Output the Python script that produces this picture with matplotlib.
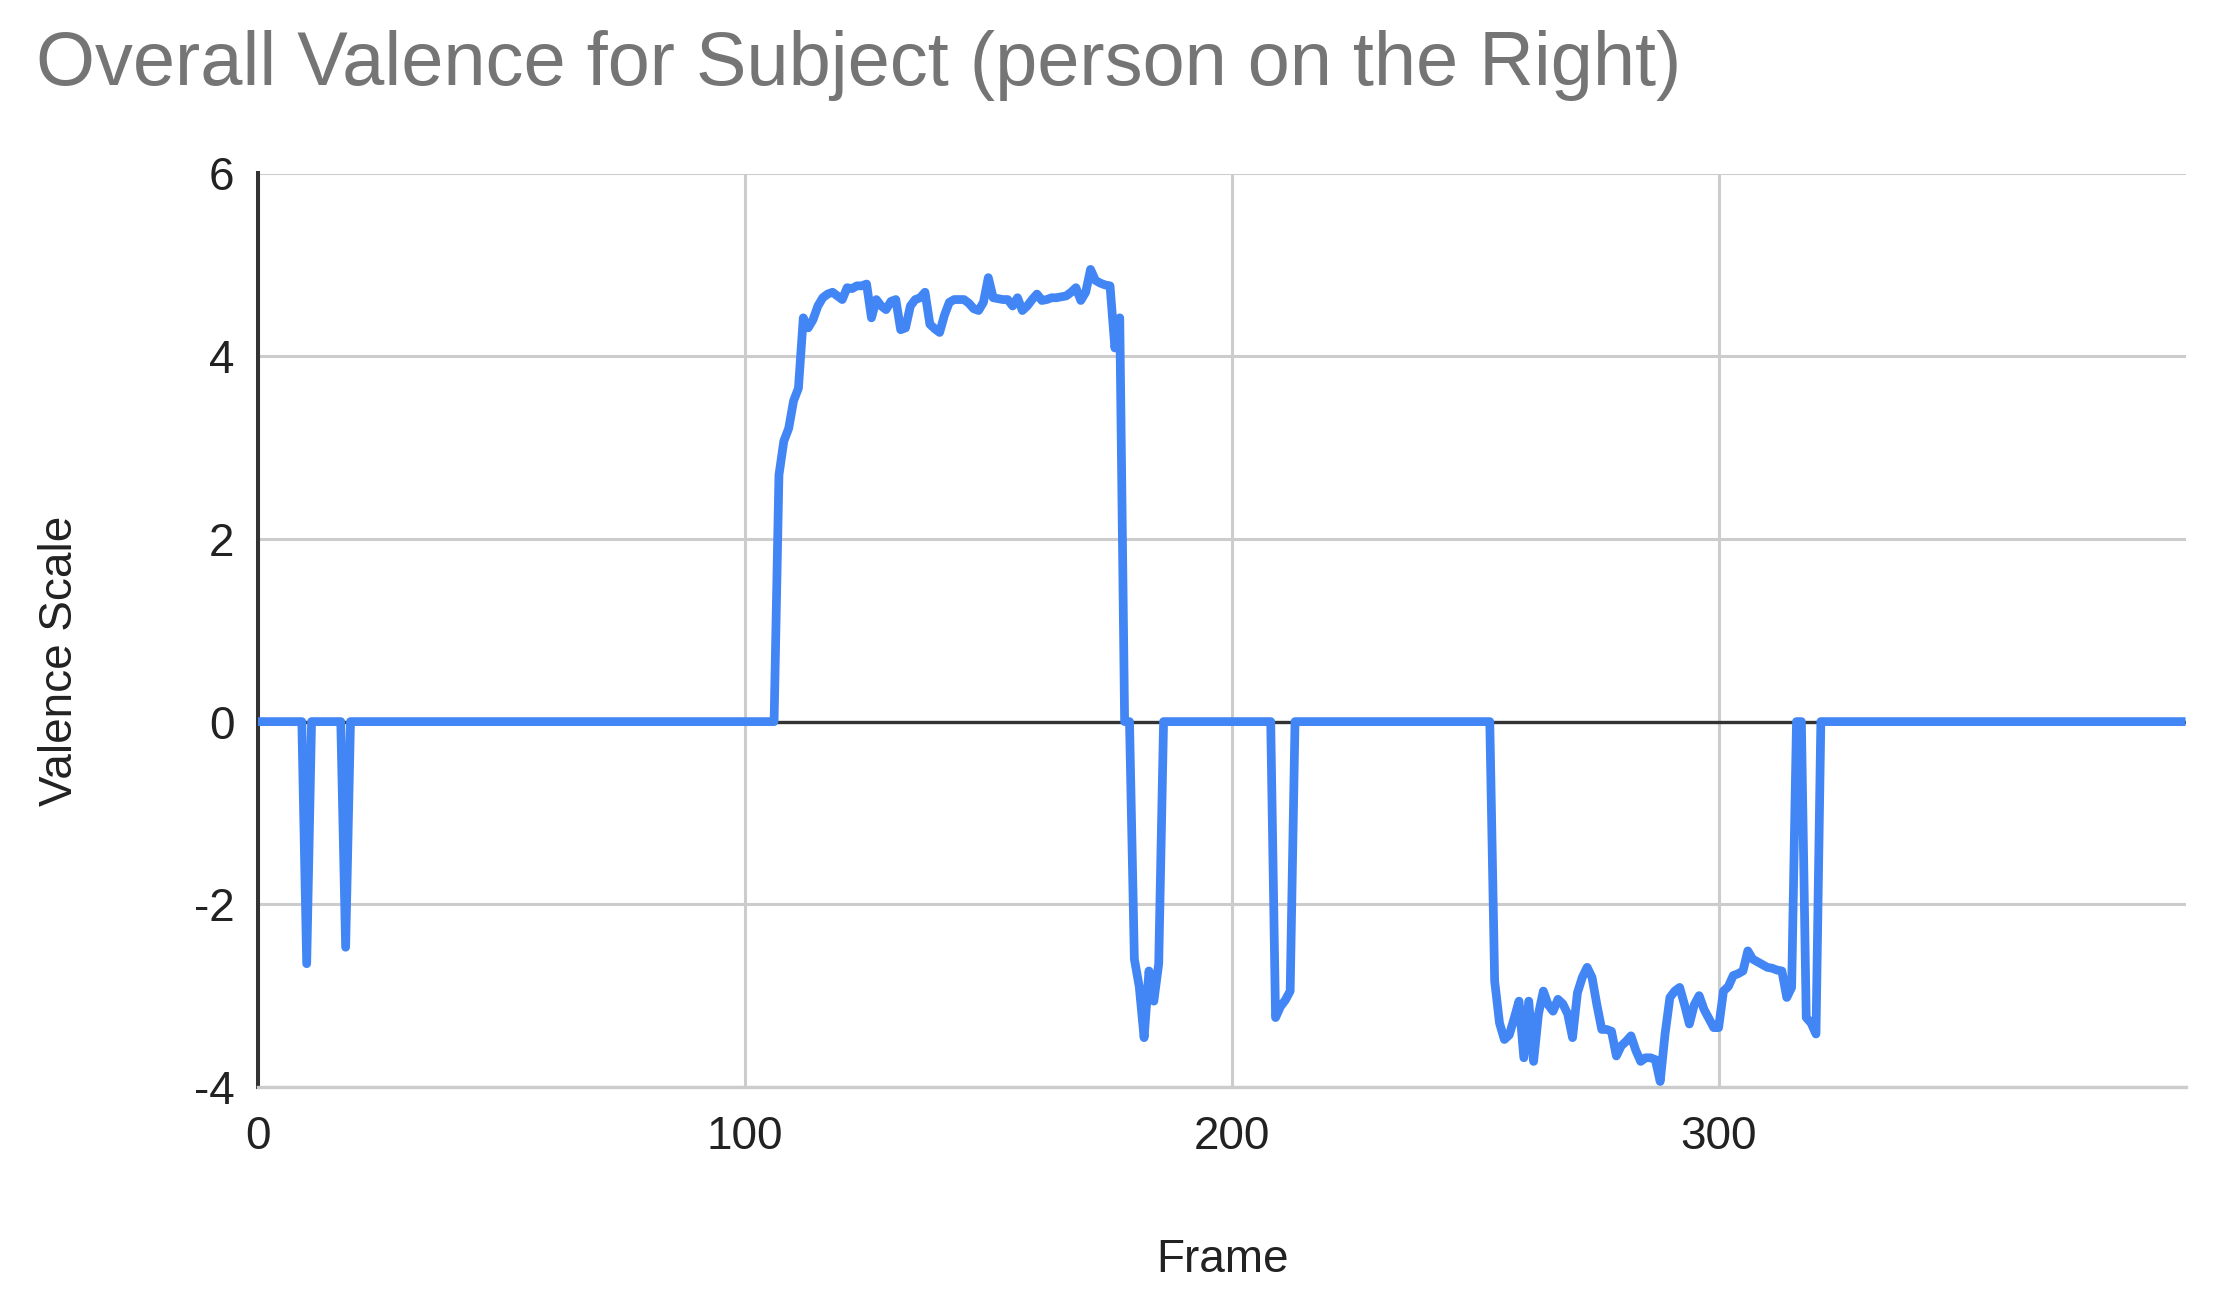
import numpy as np
import matplotlib
matplotlib.use("Agg")
import matplotlib.pyplot as plt

# valence per frame, only the frames where the curve leaves zero (plus the bounding zeros)
frames = [
    0, 9, 10, 11, 17, 18, 19,
    106, 107, 108, 109, 110, 111, 112, 113, 114, 115, 116, 117, 118, 119, 120,
    121, 122, 123, 124, 125, 126, 127, 128, 129, 130, 131, 132, 133, 134, 135,
    136, 137, 138, 139, 140, 141, 142, 143, 144, 145, 146, 147, 148, 149, 150,
    151, 152, 153, 154, 155, 156, 157, 158, 159, 160, 161, 162, 163, 164, 165,
    166, 167, 168, 169, 170, 171, 172, 173, 174, 175, 176, 177, 178,
    179, 180, 181, 182, 183, 184, 185, 186,
    208, 209, 210, 211, 212, 213,
    253, 254, 255, 256, 257, 258, 259, 260, 261, 262, 263, 264, 265, 266, 267,
    268, 269, 270, 271, 272, 273, 274, 275, 276, 277, 278, 279, 280, 281, 282,
    283, 284, 285, 286, 287, 288, 289, 290, 291, 292, 293, 294, 295, 296, 297,
    298, 299, 300, 301, 302, 303, 304, 305, 306, 307, 308, 309, 310, 311, 312,
    313, 314, 315, 316, 317, 318, 319, 320, 321,
    395,
]
valence = [
    0, 0, -2.65, 0, 0, -2.47, 0,
    0, 2.70, 3.07, 3.21, 3.51, 3.65, 4.42, 4.31, 4.40, 4.55, 4.64, 4.68, 4.70, 4.66, 4.62,
    4.75, 4.74, 4.77, 4.77, 4.79, 4.42, 4.62, 4.55, 4.51, 4.60, 4.62, 4.29, 4.31, 4.55, 4.62,
    4.64, 4.70, 4.35, 4.30, 4.26, 4.45, 4.59, 4.62, 4.62, 4.62, 4.58, 4.52, 4.50, 4.59, 4.86,
    4.64, 4.63, 4.62, 4.62, 4.55, 4.64, 4.50, 4.55, 4.62, 4.68, 4.61, 4.62, 4.64, 4.64, 4.65,
    4.66, 4.70, 4.75, 4.61, 4.70, 4.95, 4.83, 4.80, 4.78, 4.77, 4.09, 4.42, 0,
    0, -2.60, -2.90, -3.46, -2.73, -3.06, -2.65, 0,
    0, -3.24, -3.12, -3.05, -2.95, 0,
    0, -2.84, -3.30, -3.48, -3.43, -3.25, -3.06, -3.68, -3.06, -3.72, -3.20, -2.95, -3.10, -3.17, -3.04,
    -3.09, -3.20, -3.46, -2.97, -2.80, -2.69, -2.80, -3.10, -3.37, -3.37, -3.39, -3.66, -3.55, -3.50, -3.44,
    -3.60, -3.72, -3.68, -3.68, -3.70, -3.94, -3.42, -3.02, -2.95, -2.91, -3.10, -3.31, -3.10, -3.00, -3.15,
    -3.25, -3.35, -3.35, -2.95, -2.90, -2.78, -2.76, -2.73, -2.51, -2.60, -2.63, -2.66, -2.69, -2.70, -2.72,
    -2.73, -3.02, -2.91, 0, 0, -3.24, -3.30, -3.42, 0,
    0,
]

x_ticks = [0, 100, 200, 300]
y_ticks = [-4, -2, 0, 2, 4, 6]

plt.rcParams['font.family'] = ['Liberation Sans', 'DejaVu Sans']
plt.rcParams['axes.unicode_minus'] = False

fig = plt.figure(figsize=(22.15, 12.97), dpi=100)
ax = fig.add_axes([258 / 2215, 1 - 1087 / 1297, (2186 - 258) / 2215, (1087 - 173.5) / 1297])

ax.plot(frames, valence, color='#4285F4', linewidth=6.3, solid_joinstyle='round', zorder=3)
ax.axhline(0, color='#333333', linewidth=2.4, zorder=2)

ax.set_xlim(0, 396)
ax.set_ylim(-4, 6)
ax.set_xticks(x_ticks)
ax.set_yticks(y_ticks)
ax.grid(True, color='#cccccc', linewidth=2.2, zorder=0)
ax.tick_params(length=0, labelsize=33, labelcolor='#222222')
ax.tick_params(axis='y', pad=17)
ax.tick_params(axis='x', pad=20)

for side in ['top', 'right']:
    ax.spines[side].set_visible(False)
ax.spines['left'].set_color('#333333')
ax.spines['left'].set_linewidth(2.9)
ax.spines['bottom'].set_color('#cccccc')
ax.spines['bottom'].set_linewidth(2.4)

fig.text(36 / 2215, 1 - 85 / 1297, 'Overall Valence for Subject (person on the Right)',
         fontsize=54.5, color='#757575', ha='left', va='baseline')
fig.text(60 / 2215, 1 - 661 / 1297, 'Valence Scale', fontsize=33, color='#222222',
         rotation=90, ha='center', va='center')
fig.text(1222 / 2215, 1 - 1272 / 1297, 'Frame', fontsize=33, color='#222222',
         ha='center', va='baseline')

fig.savefig('out.png', dpi=100)
